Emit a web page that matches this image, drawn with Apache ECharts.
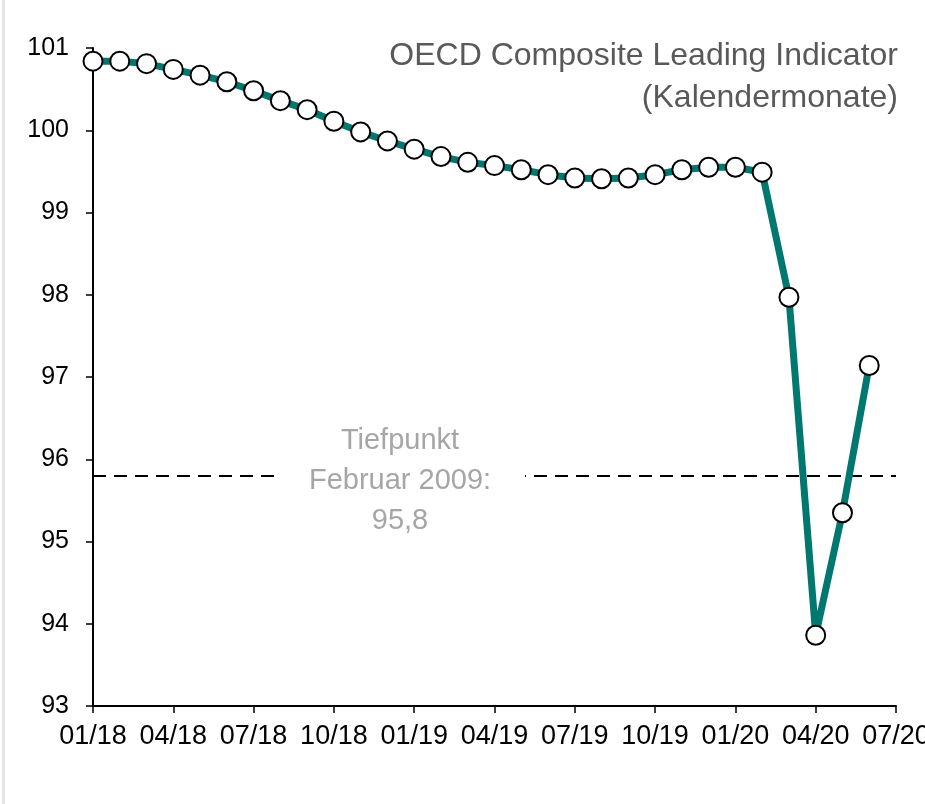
<!DOCTYPE html>
<html>
<head>
<meta charset="utf-8">
<script src="https://cdn.jsdelivr.net/npm/echarts@6/dist/echarts.min.js"></script>
<style>
  html, body { margin: 0; padding: 0; background: #fff; }
  #chart { width: 925px; height: 804px; }
</style>
</head>
<body>
<div id="chart"></div>
<script>
  // monthly categories 01/18 .. 07/20
  var months = ['01/18','02/18','03/18','04/18','05/18','06/18','07/18','08/18','09/18','10/18','11/18','12/18',
                '01/19','02/19','03/19','04/19','05/19','06/19','07/19','08/19','09/19','10/19','11/19','12/19',
                '01/20','02/20','03/20','04/20','05/20','06/20','07/20'];
  var cli = [100.84, 100.84, 100.81, 100.74, 100.67, 100.59, 100.48, 100.36, 100.25, 100.11, 99.98, 99.87,
             99.77, 99.68, 99.61, 99.57, 99.52, 99.46, 99.42, 99.41, 99.42, 99.46, 99.52, 99.55,
             99.55, 99.49, 97.97, 93.86, 95.35, 97.14];
  var trough = 95.8;
  var troughLabel = 'Tiefpunkt\nFebruar 2009:\n95,8';
  var titleText = 'OECD Composite Leading Indicator\n(Kalendermonate)';

  var chart = echarts.init(document.getElementById('chart'));
  var option = {
    animation: false,
    grid: { left: 93, right: 29, top: 48, bottom: 98, outerBoundsMode: 'none' },
    xAxis: {
      type: 'category',
      data: months,
      boundaryGap: false,
      axisLine: { lineStyle: { color: '#000', width: 2 } },
      axisTick: { interval: 2, length: 7, lineStyle: { color: '#000', width: 1.5 } },
      axisLabel: {
        interval: 2,
        color: '#000',
        fontSize: 27,
        margin: 17,
        fontFamily: 'Liberation Sans Narrow, Arial Narrow, Liberation Sans, sans-serif'
      },
      splitLine: { show: false }
    },
    yAxis: {
      type: 'value',
      min: 93,
      max: 101,
      interval: 1,
      axisLine: { show: true, lineStyle: { color: '#000', width: 2 } },
      axisTick: { show: true, length: 7, lineStyle: { color: '#000', width: 1.5 } },
      axisLabel: {
        color: '#000',
        fontSize: 25,
        margin: 24,
        fontFamily: 'Liberation Sans, Arial, sans-serif'
      },
      splitLine: { show: false }
    },
    series: [{
      type: 'line',
      data: cli,
      symbol: 'circle',
      symbolSize: 19,
      showAllSymbol: true,
      z: 5,
      lineStyle: { color: '#00776F', width: 7 },
      itemStyle: { color: '#fff', borderColor: '#000', borderWidth: 2 },
      markLine: {
        silent: true,
        symbol: 'none',
        label: { show: false },
        lineStyle: { color: '#000', type: [13, 8], width: 2 },
        data: [{ yAxis: trough }]
      }
    }],
    graphic: [
      {
        type: 'rect',
        left: 2, top: 0,
        shape: { width: 3, height: 804 },
        style: { fill: '#e6e6e6' }
      },
      {
        type: 'text',
        x: 898, y: 35,
        z: 10,
        style: {
          text: titleText,
          fill: '#595959',
          fontSize: 32,
          fontFamily: 'Liberation Sans, Arial, sans-serif',
          lineHeight: 42,
          align: 'right',
          verticalAlign: 'top'
        }
      },
      {
        type: 'text',
        x: 400, y: 421,
        z: 10,
        style: {
          text: troughLabel,
          fill: '#a6a6a6',
          fontSize: 29,
          fontFamily: 'Liberation Sans, Arial, sans-serif',
          lineHeight: 40,
          align: 'center',
          verticalAlign: 'top',
          backgroundColor: '#fff',
          padding: [0, 34, 0, 34]
        }
      }
    ]
  };
  chart.setOption(option);
</script>
</body>
</html>
